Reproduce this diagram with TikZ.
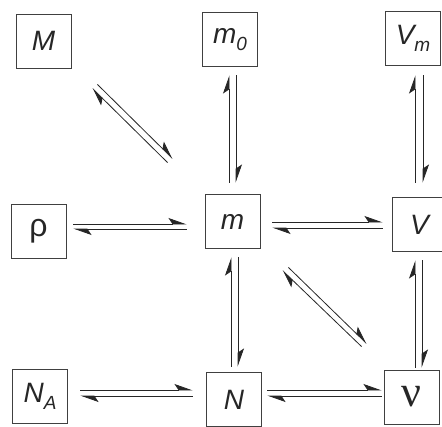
\documentclass[tikz,border=0pt]{standalone}
\usepackage{fontspec}
\setmainfont{Liberation Sans}
\newfontfamily\serifgr{Liberation Serif}
\usetikzlibrary{arrows.meta}
\newcommand\sbx[1]{\raisebox{-7pt}{\fontsize{19}{19}\selectfont\itshape #1}}
\begin{document}
\begin{tikzpicture}[x=1pt,y=-1pt,
  box/.style={draw=black!75,line width=0.8pt,minimum width=55pt,minimum height=54pt,inner sep=0pt,
    text=black!85,font=\fontsize{28}{28}\selectfont\itshape},
  harp/.style={draw=black!85,line width=0.8pt,-{Stealth[harpoon,length=17pt,width=12pt,inset=4pt]}}]
\useasboundingbox (0,0) rectangle (442,426);
\node[box] (M)  at (43.5,41)    {M};
\node[box] (m0) at (230,39.5)   {m\sbx{0}};
\node[box] (Vm) at (413,38)     {V\sbx{m}};
\node[box] (rho) at (38.5,231)  {\fontsize{32}{32}\selectfont\upshape ρ};
\node[box] (m)  at (232.5,221.5) {m};
\node[box] (V)  at (419.5,224.5) {V};
\node[box] (NA) at (40,396.5)   {N\sbx{A}};
\node[box] (N)  at (234,399.5)  {N};
\node[box] (nu) at (411.5,397)  {\fontsize{44}{44}\selectfont\upshape\serifgr ν};
% rho -- m
\draw[harp] ([shift={(7,-7)}]rho.east) -- ([shift={(-18,2.5)}]m.west);
\draw[harp] ([shift={(-18,7.5)}]m.west) -- ([shift={(7,-2)}]rho.east);
% m -- V
\draw[harp] ([shift={(12,0.5)}]m.east) -- ([shift={(-9,-2.5)}]V.west);
\draw[harp] ([shift={(-9,3.5)}]V.west) -- ([shift={(12,6.5)}]m.east);
% NA -- N
\draw[harp] ([shift={(12.5,-6.5)}]NA.east) -- ([shift={(-13.5,-9.5)}]N.west);
\draw[harp] ([shift={(-13.5,-3.5)}]N.west) -- ([shift={(12.5,-0.5)}]NA.east);
% N -- nu
\draw[harp] ([shift={(5.5,-9.5)}]N.east) -- ([shift={(-2,-7)}]nu.west);
\draw[harp] ([shift={(-2,-1)}]nu.west) -- ([shift={(5.5,-3.5)}]N.east);
% m0 -- m
\draw[harp] ([shift={(-3.5,-11.5)}]m.north) -- ([shift={(-1,8.5)}]m0.south);
\draw[harp] ([shift={(6,8.5)}]m0.south) -- ([shift={(3.5,-11.5)}]m.north);
% Vm -- V
\draw[harp] ([shift={(-4.5,-14.5)}]V.north) -- ([shift={(2,10)}]Vm.south);
\draw[harp] ([shift={(10,10)}]Vm.south) -- ([shift={(3.5,-14.5)}]V.north);
% m -- N
\draw[harp] ([shift={(-3,-5.5)}]N.north) -- ([shift={(-1.5,8.5)}]m.south);
\draw[harp] ([shift={(5.5,8.5)}]m.south) -- ([shift={(4,-5.5)}]N.north);
% V -- nu
\draw[harp] ([shift={(3.5,-2)}]nu.north) -- ([shift={(-4.5,8.5)}]V.south);
\draw[harp] ([shift={(2.5,8.5)}]V.south) -- ([shift={(10.5,-2)}]nu.north);
% M -- m
\draw[harp] ([shift={(-37,-31.5)}]m.north west) -- ([shift={(21,20)}]M.south east);
\draw[harp] ([shift={(26,16)}]M.south east) -- ([shift={(-32,-35.5)}]m.north west);
% m -- nu
\draw[harp] ([shift={(-22,-23)}]nu.north west) -- ([shift={(22,21.5)}]m.south east);
\draw[harp] ([shift={(28,18.5)}]m.south east) -- ([shift={(-17,-26)}]nu.north west);
\end{tikzpicture}
\end{document}
